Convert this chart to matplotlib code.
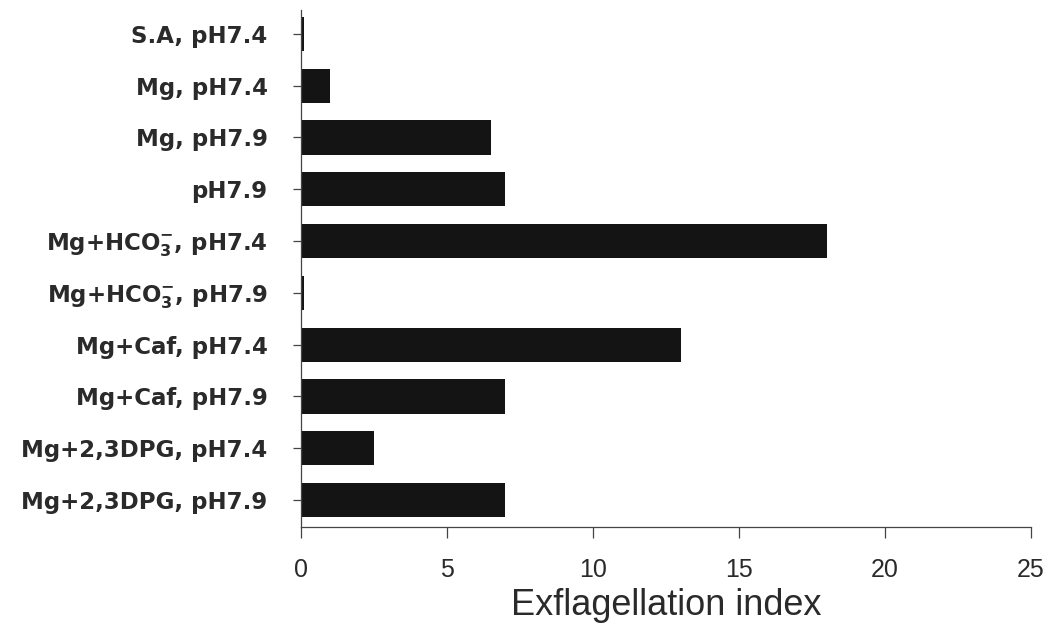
import matplotlib.pyplot as plt

plt.rcParams['font.family'] = ['DejaVu Sans']
plt.rcParams['mathtext.fontset'] = 'dejavusans'

# conditions, top to bottom
conditions = [
    'S.A, pH7.4',
    'Mg, pH7.4',
    'Mg, pH7.9',
    'pH7.9',
    r'Mg+HCO$_\mathbf{3}^{\mathbf{-}}$, pH7.4',
    r'Mg+HCO$_\mathbf{3}^{\mathbf{-}}$, pH7.9',
    'Mg+Caf, pH7.4',
    'Mg+Caf, pH7.9',
    'Mg+2,3DPG, pH7.4',
    'Mg+2,3DPG, pH7.9',
]
index_values = [0.1, 1.0, 6.5, 7.0, 18.0, 0.1, 13.0, 7.0, 2.5, 7.0]
x_ticks = [0, 5, 10, 15, 20, 25]

fig = plt.figure(figsize=(10.57, 6.29), dpi=100)
ax = fig.add_axes([0.2848, 0.1622, 0.6906, 0.8218])

pos = list(range(len(conditions)))
ax.barh(pos, index_values, height=0.66, color='#141414')

ax.set_ylim(len(conditions) - 0.48, -0.46)
ax.set_xlim(0, 25)
ax.set_yticks(pos)
ax.set_yticklabels(conditions, fontsize=16.5, fontweight='bold', color='#2a2a2a')
ax.set_xticks(x_ticks)
ax.set_xticklabels([str(t) for t in x_ticks], fontsize=18, color='#2a2a2a',
                   family='Liberation Sans')
ax.set_xlabel('Exflagellation index', fontsize=26, color='#2a2a2a',
              family='Liberation Sans', labelpad=5)

ax.tick_params(axis='y', length=6, width=0.9, pad=18, color='#444444')
ax.tick_params(axis='x', length=8, width=0.9, pad=14, color='#444444')

ax.spines['top'].set_visible(False)
ax.spines['right'].set_visible(False)
for s in ['left', 'bottom']:
    ax.spines[s].set_linewidth(0.9)
    ax.spines[s].set_color('#444444')

fig.savefig('out.png', dpi=100)
